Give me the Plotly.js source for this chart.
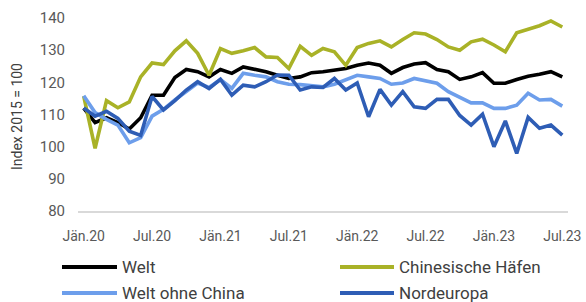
<!DOCTYPE html>
<html>
<head>
<meta charset="utf-8">
<script src="https://cdn.plot.ly/plotly-3.0.1.min.js"></script>
<style>html,body{margin:0;padding:0;background:#fff;}#chart{width:586px;height:302px;}</style>
</head>
<body>
<div id="chart"></div>
<script>
const months = ["Jän","Feb","Mär","Apr","Mai","Jun","Jul","Aug","Sep","Okt","Nov","Dez"];
const categories = [];
for (let y = 20; y <= 23; y++) {
  for (let m = 0; m < 12; m++) {
    if (y === 23 && m > 6) break;
    categories.push(months[m] + "." + y);
  }
}
const tickLabels = ["Jän.20","Jul.20","Jän.21","Jul.21","Jän.22","Jul.22","Jän.23","Jul.23"];
const seriesNames = ["Welt","Chinesische Häfen","Welt ohne China","Nordeuropa"];
const welt = [112,107.5,109,107.5,105.5,109,116,116,121.5,124,123.3,121.7,124,122.8,124.8,124,123.3,122.2,121.2,121.7,123,123.3,123.8,124.3,125.3,126,125.3,122.8,124.6,125.7,126.1,124,123.3,120.9,121.7,123,119.7,119.7,120.9,121.9,122.5,123.3,121.7];
const china = [115.7,99.5,114.3,112.1,113.9,121.7,126,125.5,129.8,132.9,129,122.2,130.5,129,129.8,130.8,127.9,127.7,124.3,131.2,128.4,130.5,129.5,125.3,130.8,132.1,132.9,131,133.3,135.4,135,133.3,131,130,132.6,133.4,131.6,129.5,135.4,136.4,137.6,139.1,137.2];
const ohneChina = [115.8,110.6,108.5,106.7,101.2,102.8,109.5,111.6,114.5,117,119.8,118.4,120.9,118.1,122.8,122.2,121.7,120.2,119.4,119.3,119,118.6,119.4,120.7,122.2,121.7,121.2,119.4,119.8,121.2,120.5,119.7,117.1,115.3,113.6,113.6,111.9,111.9,112.9,116.6,114.5,114.7,112.6];
const nordeuropa = [112,109.5,111,108.8,104.8,103.5,115.6,111.4,114.3,117.6,120.2,118.1,120.9,116,119.1,118.6,120.2,122.3,122.2,117.6,118.6,118.4,121.2,117.6,119.8,109.3,117.8,112.9,117.1,112.4,111.9,114.7,114.7,109.7,106.7,110.1,100,108,97.9,109.1,105.7,106.7,103.6];
const yTicks = [80,90,100,110,120,130,140];
const colors = ["#000000","#A9B227","#6D9EEB","#2E5DB5"];
const seriesData = [welt, china, ohneChina, nordeuropa];

const traces = seriesData.map((d, i) => ({
  type: "scatter", mode: "lines", x: categories, y: d, name: seriesNames[i],
  line: {color: colors[i], width: 3.6}, showlegend: false, hoverinfo: "skip"
}));

// custom legend (2 columns)
const legPos = [[62,117,267],[340,394,267],[62,117,293],[340,394,293]];
const shapes = [];
const annotations = [];
seriesNames.forEach((n, i) => {
  const p = legPos[i];
  shapes.push({type:"line", xref:"paper", yref:"paper", x0:(p[0]-78)/490, x1:(p[1]-78)/490,
    y0:(211-p[2])/193, y1:(211-p[2])/193, line:{color:colors[i], width:4}});
  annotations.push({xref:"paper", yref:"paper", x:(p[1]+3-78)/490, y:(211-p[2])/193,
    xanchor:"left", yanchor:"middle", showarrow:false, text:n,
    font:{family:"Roboto, sans-serif", size:17, color:"#404040"}});
});
// y axis title placed as annotation
annotations.push({xref:"paper", yref:"paper", x:(17-78)/490, y:(211-117)/193,
  xanchor:"center", yanchor:"middle", showarrow:false, textangle:-90,
  text:"Index 2015 = 100", font:{family:"Roboto, sans-serif", size:14, color:"#404040"}});

const layout = {
  width: 586, height: 302,
  margin: {l:78, r:18, t:18, b:91, pad:0},
  paper_bgcolor: "#fff", plot_bgcolor: "#fff",
  showlegend: false,
  xaxis: {
    type: "category", range: [-0.5, categories.length - 0.5],
    tickmode: "array", tickvals: tickLabels, ticktext: tickLabels,
    showgrid: false, zeroline: false, showline: true, linecolor: "#D9D9D9", linewidth: 1.5,
    ticks: "", ticklen: 0, ticklabelstandoff: 12,
    tickfont: {family:"Roboto, sans-serif", size:14, color:"#595959"},
    automargin: false, fixedrange: true
  },
  yaxis: {
    range: [80, 140], tickmode: "array", tickvals: yTicks,
    showgrid: false, zeroline: false, showline: false, ticks: "", ticklabelstandoff: 12,
    tickfont: {family:"Roboto, sans-serif", size:15, color:"#595959"},
    automargin: false, fixedrange: true
  },
  shapes: shapes,
  annotations: annotations
};
Plotly.newPlot("chart", traces, layout, {staticPlot: true, displayModeBar: false});
</script>
</body>
</html>
